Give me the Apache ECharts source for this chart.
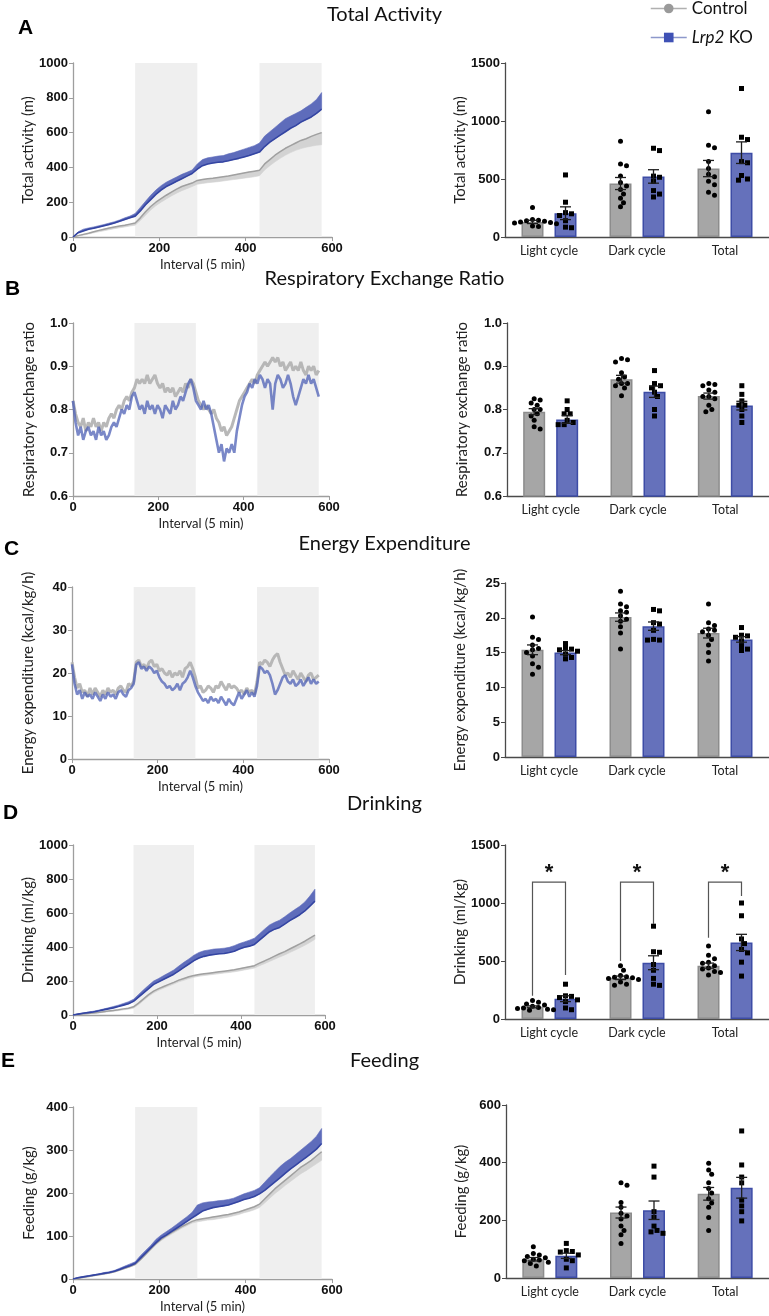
<!DOCTYPE html>
<html><head><meta charset="utf-8">
<script src="https://cdn.jsdelivr.net/npm/echarts@6/dist/echarts.min.js"></script>
<style>html,body{margin:0;padding:0;background:#fff}#c{width:769px;height:1316px}</style>
</head><body><div id="c"></div><script>
// ---------------- DATA ----------------
const rowTitles = ['Total Activity', 'Respiratory Exchange Ratio', 'Energy Expenditure', 'Drinking', 'Feeding'];
const panelLetters = ['A', 'B', 'C', 'D', 'E'];
const seriesNames = ['Control', 'Lrp2 KO'];
const categories = ['Light cycle', 'Dark cycle', 'Total'];
const intervalAxisName = 'Interval (5 min)';
const leftAxisNames = ['Total activity (m)', 'Respiratory exchange ratio', 'Energy expenditure (kcal/kg/h)', 'Drinking (ml/kg)', 'Feeding (g/kg)'];
const rightAxisNames = leftAxisNames;
const darkPhases = [[144, 288], [432, 576]];
const cumStep = 12;   // intervals between stored points (cumulative traces)
const noisyStep = 6;  // intervals between stored points (RER / EE traces)

// Total activity (cumulative, m)
const activityCtrlMean = [0,8,15,22,30,38,45,52,58,63, 68,74,80,110,145,175,200,220,240,258, 275,290,300,310,325,330,335,338,342,346, 350,356,362,368,373,378,383,420,445,470, 490,510,525,540,555,565,578,590,600];
const activityCtrlLow  = [0,5,10,17,24,30,36,42,48,53, 58,63,68,95,125,155,180,200,218,236, 252,266,278,290,303,308,312,315,318,322, 326,330,334,338,342,346,352,385,410,432, 452,470,485,498,508,516,522,527,530];
const activityKoMean   = [0,25,35,45,50,57,65,72,80,90, 100,110,120,150,185,215,245,270,290,305, 320,335,350,365,390,410,420,425,430,432, 438,445,452,460,468,478,488,520,545,565, 585,605,625,640,660,675,690,710,735];
const activityKoHigh   = [0,30,45,52,58,65,72,80,88,98, 110,120,135,170,205,240,270,295,315,330, 345,360,372,385,420,445,455,460,465,468, 478,485,495,505,515,525,540,580,605,630, 655,680,695,710,725,745,765,790,830];

// Respiratory exchange ratio traces
const rerCtrl = [
 0.82,0.79,0.77,0.76,0.78,0.75,0.77,0.76,
 0.78,0.76,0.77,0.75,0.77,0.76,0.78,0.79,
 0.78,0.80,0.81,0.80,0.82,0.83,0.82,0.84,
 0.85,0.87,0.86,0.87,0.86,0.88,0.86,0.87,
 0.88,0.86,0.85,0.86,0.84,0.85,0.84,0.85,
 0.83,0.84,0.85,0.84,0.86,0.85,0.87,0.86,
 0.84,0.82,0.81,0.80,0.81,0.80,0.79,0.80,
 0.78,0.77,0.75,0.76,0.74,0.75,0.76,0.78,
 0.80,0.82,0.83,0.84,0.85,0.86,0.87,0.86,
 0.88,0.89,0.90,0.91,0.90,0.91,0.92,0.91,
 0.92,0.90,0.91,0.89,0.90,0.91,0.89,0.90,
 0.89,0.91,0.89,0.88,0.90,0.89,0.90,0.88,
 0.89];
const rerKo = [
 0.82,0.77,0.74,0.76,0.73,0.75,0.76,0.74,
 0.75,0.73,0.76,0.74,0.75,0.73,0.74,0.76,
 0.77,0.76,0.78,0.80,0.79,0.81,0.80,0.83,
 0.84,0.82,0.80,0.81,0.79,0.82,0.80,0.81,
 0.79,0.81,0.80,0.78,0.81,0.80,0.79,0.82,
 0.80,0.81,0.83,0.82,0.84,0.86,0.87,0.85,
 0.82,0.81,0.80,0.82,0.80,0.81,0.79,0.76,
 0.73,0.70,0.72,0.68,0.71,0.70,0.72,0.70,
 0.75,0.78,0.81,0.83,0.84,0.86,0.85,0.87,
 0.86,0.88,0.87,0.85,0.87,0.86,0.80,0.86,
 0.88,0.87,0.85,0.86,0.88,0.86,0.83,0.81,
 0.83,0.85,0.87,0.86,0.88,0.86,0.87,0.85,
 0.83];

// Energy expenditure traces (kcal/kg/h)
const eeCtrl = [
 22.5,19.0,16.5,17.5,15.5,16.0,14.5,16.5,
 15.0,16.5,15.5,14.5,16.0,15.0,16.5,15.5,
 16.0,15.0,16.5,17.0,16.0,15.5,17.5,17.0,
 18.0,22.5,23.0,21.5,22.0,21.0,22.5,23.0,
 21.5,22.0,20.5,21.0,20.0,19.5,20.5,19.0,
 20.0,19.5,20.5,19.0,21.0,21.5,22.5,21.0,
 19.0,16.5,17.0,15.5,16.0,17.0,16.5,15.5,
 17.0,16.5,18.0,17.0,16.0,17.5,16.5,17.0,
 16.5,15.5,16.0,15.0,16.5,15.5,16.0,15.0,
 18.0,22.5,22.0,23.0,22.5,21.5,23.0,24.0,
 24.5,22.5,21.0,19.5,20.0,19.0,20.5,19.5,
 18.5,20.0,19.0,18.0,19.5,20.0,18.5,19.0,
 19.5];
const eeKo = [
 22.0,17.5,15.0,16.0,14.0,15.5,14.5,15.0,
 14.0,15.5,14.5,13.5,15.0,14.0,15.5,14.5,
 15.0,14.0,15.5,16.0,15.0,14.5,16.0,16.5,
 17.5,22.0,22.5,21.0,21.5,20.5,21.5,21.0,
 20.0,20.5,19.0,18.0,17.5,16.5,17.0,16.0,
 16.5,17.5,16.0,17.5,18.0,19.0,20.5,19.0,
 17.0,15.5,14.5,13.5,14.0,13.0,14.5,13.5,
 14.0,13.0,14.5,13.5,12.5,14.0,13.0,12.5,
 14.0,15.5,14.0,15.0,16.0,14.5,15.5,14.5,
 17.0,21.5,21.0,20.0,20.5,19.5,17.5,15.0,
 16.0,17.5,19.0,19.5,18.0,17.5,18.5,17.0,
 17.5,18.5,17.0,18.0,19.0,17.5,18.5,17.5,
 18.0];

// Drinking (cumulative, ml/kg)
const drinkCtrlMean = [0,3,6,9,12,15,19,23,27,31, 36,40,48,70,95,120,140,155,168,180, 192,205,215,225,232,238,242,246,250,254, 258,262,266,272,278,284,290,305,318,332, 346,360,373,388,403,418,434,452,470];
const drinkCtrlLow  = [0,2,5,7,10,12,15,19,22,26, 30,34,40,60,85,110,130,145,158,170, 182,195,204,214,222,228,232,236,239,243, 247,250,254,259,265,270,276,290,302,315, 328,341,353,367,381,395,410,427,445];
const drinkKoMean   = [0,5,10,14,18,24,30,36,42,50, 58,66,80,105,130,155,180,195,210,225, 240,260,280,300,320,335,345,352,356,360, 362,368,375,388,398,405,415,440,465,490, 505,515,535,555,572,590,612,640,670];
const drinkKoHigh   = [0,6,12,17,22,28,35,42,50,58, 68,78,92,120,148,175,200,215,232,248, 265,288,310,330,352,368,378,383,388,390, 393,398,408,420,430,440,452,478,505,530, 545,558,578,600,620,640,665,700,740];

// Feeding (cumulative, g/kg)
const feedCtrlMean = [0,2,4,6,8,10,12,14,17,21, 25,29,34,45,57,70,82,92,100,108, 115,122,128,134,138,140,142,144,146,148, 150,153,156,160,164,168,174,186,198,210, 220,230,240,250,260,268,276,286,296];
const feedCtrlLow  = [0,1,3,5,7,9,11,13,16,20, 24,28,32,43,55,67,79,89,97,104, 111,118,124,130,133,135,137,138,140,142, 144,147,150,154,157,161,166,177,188,199, 208,218,227,236,245,252,260,268,276];
const feedKoMean   = [0,3,5,7,9,11,13,15,18,22, 27,31,36,48,60,72,84,95,102,110, 118,126,134,142,150,158,162,166,168,170, 172,176,180,185,188,192,198,206,216,226, 236,246,256,265,274,283,292,302,315];
const feedKoHigh   = [0,4,6,8,10,12,15,17,20,25, 30,35,40,54,66,78,92,102,110,118, 127,136,145,155,172,177,179,180,182,183, 185,188,193,198,202,206,212,225,238,250, 262,272,280,290,300,310,320,332,350];

// Bar panels: means, SEM and individual animals per category
const activityBarCtrl = [130, 461, 590];  const activityBarCtrlSem = [14, 52, 70];
const activityBarKo   = [205, 522, 727];  const activityBarKoSem   = [55, 58, 93];
const activityDotsCtrl = [[255,150,145,140,135,130,125,120,115,95,90],[825,630,615,525,470,440,410,370,335,295,260],[1080,790,770,650,590,540,520,480,450,385,360]];
const activityDotsKo   = [[535,300,210,200,185,140,85,80],[765,745,525,515,480,400,370,345],[1280,860,840,650,640,530,500,490]];

const rerBarCtrl = [0.795, 0.870, 0.831]; const rerBarCtrlSem = [0.007, 0.009, 0.007];
const rerBarKo   = [0.777, 0.841, 0.809]; const rerBarKoSem   = [0.009, 0.013, 0.010];
const rerDotsCtrl = [[0.825,0.822,0.815,0.81,0.80,0.80,0.79,0.785,0.775,0.76,0.755],[0.918,0.915,0.91,0.885,0.875,0.87,0.86,0.86,0.855,0.85,0.832],[0.86,0.858,0.855,0.845,0.84,0.83,0.83,0.825,0.81,0.80,0.795]];
const rerDotsKo   = [[0.82,0.80,0.79,0.79,0.775,0.77,0.765,0.765],[0.89,0.86,0.855,0.85,0.84,0.83,0.80,0.785],[0.855,0.835,0.82,0.81,0.81,0.80,0.785,0.77]];

const eeBarCtrl = [15.4, 20.1, 17.8]; const eeBarCtrlSem = [0.7, 0.6, 0.7];
const eeBarKo   = [15.0, 18.8, 16.9]; const eeBarKoSem   = [0.3, 0.6, 0.4];
const eeDotsCtrl = [[20.1,17.2,16.9,16.1,15.6,15.4,15.0,14.5,13.4,12.9,11.9],[23.8,22.0,21.6,21.0,20.8,20.3,19.8,19.5,18.7,17.8,15.5],[22.0,19.3,18.9,18.4,18.2,18.0,17.5,16.9,16.1,15.0,13.8]];
const eeDotsKo   = [[16.3,15.6,15.5,15.4,15.2,14.8,14.3,14.1],[21.2,21.0,19.3,19.1,18.2,16.9,16.8,16.8],[18.6,17.5,17.4,17.2,16.7,16.0,15.5,15.3]];

const drinkBarCtrl = [105, 355, 460]; const drinkBarCtrlSem = [8, 15, 22];
const drinkBarKo   = [175, 485, 660]; const drinkBarKoSem   = [25, 60, 70];
const drinkDotsCtrl = [[160,145,130,120,110,100,95,90,85,80,75],[460,420,375,365,360,355,350,340,320,300,290],[630,550,520,490,480,460,440,430,410,400,380]];
const drinkDotsKo   = [[300,200,195,185,165,150,95,80],[800,580,575,470,420,350,300,290],[1000,890,690,650,600,570,490,370]];
const drinkSigTop = [1180, 1180, 1180];
const drinkSigLeftEnd = [200, 500, 700];
const drinkSigRightEnd = [380, 820, 1060];
const drinkSigLabel = ['*', '*', '*'];

const feedBarCtrl = [65, 227, 292]; const feedBarCtrlSem = [6, 19, 22];
const feedBarKo   = [77, 235, 313]; const feedBarKoSem   = [9, 32, 36];
const feedDotsCtrl = [[108,85,80,75,70,65,62,60,55,50,42],[330,322,262,245,225,215,205,180,165,150,120],[398,375,360,330,310,295,275,260,245,210,165]];
const feedDotsKo   = [[120,95,92,90,80,65,60,35],[388,350,230,210,180,165,160,155],[510,392,350,330,270,250,230,198]];

const leftTicks  = [[0,1000,200],[0.6,1.0,0.1],[0,40,10],[0,1000,200],[0,400,100]];
const rightTicks = [[0,1500,500],[0.6,1.0,0.1],[0,25,5],[0,1500,500],[0,600,200]];
const xTicks = [0, 600, 200];

// ---------------- LAYOUT / STYLE ----------------
const FONT_T = 'Lato, "Open Sans", sans-serif';
const FONT_N = '"Liberation Sans", Arial, sans-serif';
const BAR_W = 22, BAR_OFF = 16.5;
const C_CTRL_BAR = '#a6a6a6', C_CTRL_BORDER = '#8c8c8c';
const C_KO_BAR = '#6571bb', C_KO_BORDER = '#3d4ca6';
const leftGrids = [
  {left:73, top:63, width:259, height:174},
  {left:73, top:323, width:256, height:173},
  {left:72, top:587, width:257, height:172},
  {left:73, top:845, width:252, height:170},
  {left:73, top:1107, width:259, height:172}
];
const rightGrids = [
  {left:505, top:63, width:264, height:174},
  {left:507, top:323, width:262, height:173},
  {left:505, top:583, width:264, height:174},
  {left:505, top:845, width:264, height:174},
  {left:506, top:1105, width:263, height:173}
];
const titleY = [17, 281, 546, 806, 1063];
const letterPos = [[25,29],[12,290],[11,550],[10,814],[8,1062]];

const cumRows = {
  0: {ctrlMean: activityCtrlMean, ctrlLow: activityCtrlLow, koMean: activityKoMean, koHigh: activityKoHigh},
  3: {ctrlMean: drinkCtrlMean, ctrlLow: drinkCtrlLow, koMean: drinkKoMean, koHigh: drinkKoHigh},
  4: {ctrlMean: feedCtrlMean, ctrlLow: feedCtrlLow, koMean: feedKoMean, koHigh: feedKoHigh}
};
const noisyRows = {1: {ctrl: rerCtrl, ko: rerKo}, 2: {ctrl: eeCtrl, ko: eeKo}};
const barRows = [
  {c: activityBarCtrl, cs: activityBarCtrlSem, k: activityBarKo, ks: activityBarKoSem, dc: activityDotsCtrl, dk: activityDotsKo},
  {c: rerBarCtrl, cs: rerBarCtrlSem, k: rerBarKo, ks: rerBarKoSem, dc: rerDotsCtrl, dk: rerDotsKo},
  {c: eeBarCtrl, cs: eeBarCtrlSem, k: eeBarKo, ks: eeBarKoSem, dc: eeDotsCtrl, dk: eeDotsKo},
  {c: drinkBarCtrl, cs: drinkBarCtrlSem, k: drinkBarKo, ks: drinkBarKoSem, dc: drinkDotsCtrl, dk: drinkDotsKo},
  {c: feedBarCtrl, cs: feedBarCtrlSem, k: feedBarKo, ks: feedBarKoSem, dc: feedDotsCtrl, dk: feedDotsKo}
];

// ---------------- BUILD ----------------
const pairs = (arr, step) => arr.map((v, i) => [i * step, v]);
const grid = [], xAxis = [], yAxis = [], series = [], title = [];

function tickLabel(t){ return {fontFamily: FONT_N, fontWeight: 'bold', fontSize: 13, color: '#111', margin: 5,
  formatter: v => (t[2] < 1 ? Number(v).toFixed(1) : String(Math.round(v)))}; }

for (let r = 0; r < 5; r++) {
  grid.push(leftGrids[r]);
  xAxis.push({type: 'value', gridIndex: r, min: xTicks[0], max: xTicks[1], interval: xTicks[2],
    name: intervalAxisName, nameLocation: 'middle', nameGap: 21,
    nameTextStyle: {fontFamily: FONT_T, fontSize: 13, color: '#222'},
    axisLine: {onZero: false, lineStyle: {color: '#9e9e9e', width: 1.3}}, axisTick: {length: 4, lineStyle: {color: '#9e9e9e'}},
    splitLine: {show: false}, axisLabel: tickLabel([0,0,200])});
  const lt = leftTicks[r];
  yAxis.push({type: 'value', gridIndex: r, min: lt[0], max: lt[1], interval: lt[2],
    name: leftAxisNames[r], nameLocation: 'middle', nameGap: 36, nameRotate: 90,
    nameTextStyle: {fontFamily: FONT_T, fontSize: 15, color: '#222'},
    axisLine: {show: true, onZero: false, lineStyle: {color: '#9e9e9e', width: 1.3}}, axisTick: {show: true, length: 4, lineStyle: {color: '#9e9e9e'}},
    splitLine: {show: false}, axisLabel: tickLabel(lt)});
}
for (let r = 0; r < 5; r++) {
  const gi = 5 + r;
  grid.push(rightGrids[r]);
  xAxis.push({type: 'category', gridIndex: gi, data: categories,
    axisLine: {onZero: false, lineStyle: {color: '#4a4a4a', width: 1.3}},
    axisTick: {alignWithLabel: true, length: 5, lineStyle: {color: '#4a4a4a'}},
    axisLabel: {fontFamily: FONT_T, fontSize: 12.5, color: '#222', margin: 7}});
  const rt = rightTicks[r];
  yAxis.push({type: 'value', gridIndex: gi, min: rt[0], max: rt[1], interval: rt[2],
    name: rightAxisNames[r], nameLocation: 'middle', nameGap: 37, nameRotate: 90,
    nameTextStyle: {fontFamily: FONT_T, fontSize: 15, color: '#222'},
    axisLine: {show: true, lineStyle: {color: '#4a4a4a', width: 1.3}}, axisTick: {show: true, length: 4, lineStyle: {color: '#4a4a4a'}},
    splitLine: {show: false}, axisLabel: tickLabel(rt)});
}

const phaseArea = {silent: true, itemStyle: {color: '#efefef'},
  data: darkPhases.map(p => [{xAxis: p[0]}, {xAxis: p[1]}])};

// band between two traces, drawn as one polygon through the axis scales
function bandSeries(r, lo, hi, step, color, z) {
  const data = lo.map((v, i) => [i * step, v, hi[i]]);
  return {type: 'custom', xAxisIndex: r, yAxisIndex: r, silent: true, animation: false, z: z,
    name: 'band' + r + '_' + z, data: data, encode: {x: 0, y: [1, 2]},
    renderItem: (params, api) => {
      if (params.dataIndex !== 0) return null;
      const top = data.map(d => api.coord([d[0], d[2]]));
      const bot = data.map(d => api.coord([d[0], d[1]])).reverse();
      return {type: 'polygon', shape: {points: top.concat(bot)}, style: {fill: color, stroke: color, lineWidth: 0.6}};
    }};
}

for (let r = 0; r < 5; r++) {
  const base = {type: 'line', xAxisIndex: r, yAxisIndex: r, symbol: 'none', showSymbol: false, silent: true, animation: false};
  if (cumRows[r]) {
    const d = cumRows[r];
    series.push(Object.assign({}, base, {name: r === 0 ? seriesNames[0] : 'ctrlMean' + r, symbol: 'circle',
      data: pairs(d.ctrlMean, cumStep), itemStyle: {color: '#9a9a9a'},
      lineStyle: {color: '#a0a0a0', width: 1.5}, markArea: phaseArea, z: 3}));
    series.push(bandSeries(r, d.ctrlLow, d.ctrlMean, cumStep, '#d3d3d3', 2));
    series.push(bandSeries(r, d.koMean, d.koHigh, cumStep, '#5e6cbb', 4));
    series.push(Object.assign({}, base, {name: r === 0 ? seriesNames[1] : 'koMean' + r, symbol: 'rect',
      data: pairs(d.koMean, cumStep), itemStyle: {color: '#3f51b5'},
      lineStyle: {color: '#3445a2', width: 1.6}, z: 5}));
  } else {
    const d = noisyRows[r];
    series.push(Object.assign({}, base, {name: 'ctrlTrace' + r, data: pairs(d.ctrl, noisyStep),
      lineStyle: {color: '#b0b0b0', width: 3, opacity: 0.9}, markArea: phaseArea, z: 2}));
    series.push(Object.assign({}, base, {name: 'koTrace' + r, data: pairs(d.ko, noisyStep),
      lineStyle: {color: '#4d60b5', width: 2.6, opacity: 0.75}, z: 3}));
  }
}

function swarm(ys) {
  const D = 3.0, MIN = 4.7, placed = [], out = [];
  for (let i = 0; i < ys.length; i++) {
    for (let s = 0; s < 30; s++) {
      const k = s === 0 ? 0 : (s % 2 ? Math.ceil(s / 2) : -s / 2);
      const dx = k * D;
      let ok = true;
      for (const p of placed) { if ((p[0] - dx) ** 2 + (p[1] - ys[i]) ** 2 < MIN * MIN) { ok = false; break; } }
      if (ok) { placed.push([dx, ys[i]]); out[i] = dx; break; }
    }
  }
  return out;
}

for (let r = 0; r < 5; r++) {
  const gi = 5 + r, b = barRows[r];
  const common = {xAxisIndex: gi, yAxisIndex: gi, animation: false, silent: true};
  series.push(Object.assign({}, common, {type: 'bar', name: seriesNames[0], data: b.c, barWidth: BAR_W, barGap: '50%', clip: true,
    itemStyle: {color: C_CTRL_BAR, borderColor: C_CTRL_BORDER, borderWidth: 1.5}}));
  series.push(Object.assign({}, common, {type: 'bar', name: seriesNames[1], data: b.k, barWidth: BAR_W, barGap: '50%', clip: true,
    itemStyle: {color: C_KO_BAR, borderColor: C_KO_BORDER, borderWidth: 1.5}}));
  const dotData = [];
  [b.dc, b.dk].forEach((grp, g) => grp.forEach((vals, c) => vals.forEach((v, k) => dotData.push([c, v, g, k]))));
  series.push(Object.assign({}, common, {type: 'custom', name: 'dots' + r, data: dotData, z: 5,
    encode: {x: 0, y: 1},
    renderItem: (params, api) => {
      const c = api.value(0), v = api.value(1), g = api.value(2), k = api.value(3);
      const vals = (g ? b.dk : b.dc)[c];
      const offs = swarm(vals.map(val => api.coord([c, val])[1]));
      const p = api.coord([c, v]);
      const cx = p[0] + (g ? 1 : -1) * BAR_OFF + offs[k], cy = p[1];
      if (g) return {type: 'rect', shape: {x: cx - 2.5, y: cy - 2.5, width: 5, height: 5}, style: {fill: '#000'}};
      return {type: 'circle', shape: {cx: cx, cy: cy, r: 2.5}, style: {fill: '#000'}};
    }}));
  const errData = [];
  b.c.forEach((m, c) => errData.push([c, m, b.cs[c], 0]));
  b.k.forEach((m, c) => errData.push([c, m, b.ks[c], 1]));
  series.push(Object.assign({}, common, {type: 'custom', name: 'err' + r, data: errData, z: 6,
    encode: {x: 0, y: 1},
    renderItem: (params, api) => {
      const c = api.value(0), m = api.value(1), s = api.value(2), g = api.value(3);
      const x = api.coord([c, m])[0] + (g ? 1 : -1) * BAR_OFF;
      const yt = api.coord([c, m + s])[1], yb = api.coord([c, m - s])[1];
      const st = {stroke: '#1e1e1e', lineWidth: 1.3};
      return {type: 'group', children: [
        {type: 'line', shape: {x1: x, y1: yt, x2: x, y2: yb}, style: st},
        {type: 'line', shape: {x1: x - 5.5, y1: yt, x2: x + 5.5, y2: yt}, style: st},
        {type: 'line', shape: {x1: x - 5.5, y1: yb, x2: x + 5.5, y2: yb}, style: st}
      ]};
    }}));
}

const sigData = drinkSigTop.map((t, c) => [c, t, drinkSigLeftEnd[c], drinkSigRightEnd[c]]);
series.push({type: 'custom', name: 'sig', xAxisIndex: 8, yAxisIndex: 8, data: sigData, silent: true, animation: false, z: 7,
  encode: {x: 0, y: 1},
  renderItem: (params, api) => {
    const c = api.value(0), top = api.coord([c, api.value(1)]);
    const xl = top[0] - BAR_OFF, xr = top[0] + BAR_OFF;
    const yl = api.coord([c, api.value(2)])[1], yr = api.coord([c, api.value(3)])[1];
    return {type: 'group', children: [
      {type: 'polyline', shape: {points: [[xl, yl], [xl, top[1]], [xr, top[1]], [xr, yr]]},
        style: {stroke: '#555', lineWidth: 1.2, fill: null}},
      {type: 'text', style: {text: drinkSigLabel[params.dataIndex], x: top[0], y: top[1] - 9,
        align: 'center', verticalAlign: 'middle', fontSize: 22, fontWeight: 'bold', fontFamily: FONT_N, fill: '#111'}}
    ]};
  }});

for (let r = 0; r < 5; r++) {
  title.push({text: rowTitles[r], left: 'center', top: titleY[r] - 12, padding: 0,
    textStyle: {fontFamily: FONT_T, fontSize: 20, fontWeight: 'normal', color: '#111'}});
  title.push({text: panelLetters[r], left: letterPos[r][0] - 7, top: letterPos[r][1] - 11, padding: 0,
    textStyle: {fontFamily: FONT_N, fontSize: 21, fontWeight: 'bold', color: '#000'}});
}

const chart = echarts.init(document.getElementById('c'), null, {renderer: 'canvas'});
chart.setOption({
  backgroundColor: '#fff',
  animation: false,
  title: title,
  legend: {show: true, orient: 'vertical', left: 650, top: 0, padding: 0, itemGap: 12,
    itemWidth: 36, itemHeight: 12,
    data: [
      {name: seriesNames[0], itemStyle: {color: '#9a9a9a'}, lineStyle: {color: '#b0b0b0', width: 1.5}},
      {name: seriesNames[1], itemStyle: {color: '#3f51b5'}, lineStyle: {color: '#8d98cb', width: 1.5}}
    ],
    formatter: n => n === 'Lrp2 KO' ? '{i|Lrp2} KO' : n,
    textStyle: {fontFamily: FONT_T, fontSize: 17, color: '#111',
      rich: {i: {fontFamily: FONT_T, fontSize: 17, fontStyle: 'italic', color: '#111'}}}
  },
  grid: grid, xAxis: xAxis, yAxis: yAxis, series: series
});
</script></body></html>
